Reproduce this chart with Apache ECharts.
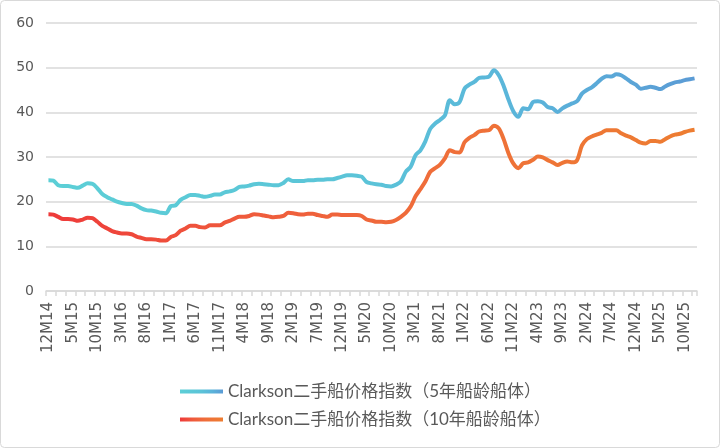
<!DOCTYPE html>
<html>
<head>
<meta charset="utf-8">
<script src="https://cdn.jsdelivr.net/npm/echarts@6/dist/echarts.min.js"></script>
<style>
html,body{margin:0;padding:0;background:#fff;}
#c{width:720px;height:448px;}
</style>
</head>
<body>
<div id="c"></div>
<script>
// Monthly categories 12M14 .. 12M25
const categories = (function(){
  const out = [];
  let m = 12, y = 14;
  for (let i = 0; i < 133; i++) {
    out.push(m + 'M' + (y < 10 ? '0' + y : y));
    m++; if (m > 12) { m = 1; y++; }
  }
  return out;
})();

const seriesNames = ['Clarkson二手船价格指数（5年船龄船体）', 'Clarkson二手船价格指数（10年船龄船体）'];

const index5y = [
  24.8,24.7,23.7,23.5,23.5,23.3,23.1,23.6,24.1,24.0,
  23.0,21.7,21.0,20.5,20.0,19.7,19.5,19.5,19.1,18.5,
  18.1,18.0,17.8,17.5,17.4,19.0,19.2,20.4,21.0,21.5,
  21.5,21.3,21.1,21.3,21.6,21.6,22.1,22.3,22.6,23.3,
  23.4,23.6,23.9,24.0,23.9,23.8,23.7,23.7,24.2,25.0,
  24.6,24.6,24.6,24.8,24.8,24.9,24.9,25.0,25.0,25.3,
  25.6,25.9,25.9,25.8,25.6,24.4,24.1,23.9,23.8,23.5,
  23.4,23.8,24.5,26.7,27.8,30.4,31.5,33.5,36.3,37.5,
  38.3,39.3,42.7,41.8,42.3,45.3,46.2,46.8,47.7,47.8,
  48.0,49.4,48.3,45.9,42.8,40.2,39.0,40.9,40.7,42.3,
  42.5,42.2,41.2,40.9,40.1,40.9,41.5,42.0,42.5,44.2,
  45.0,45.6,46.5,47.5,48.1,48.0,48.5,48.3,47.6,46.8,
  46.2,45.3,45.5,45.7,45.5,45.2,45.8,46.3,46.7,46.9,
  47.2,47.4,47.6
];

const index10y = [
  17.2,17.1,16.6,16.1,16.1,16.0,15.7,16.0,16.4,16.3,
  15.5,14.6,14.0,13.4,13.1,12.9,12.9,12.7,12.2,11.9,
  11.6,11.6,11.5,11.3,11.3,12.1,12.5,13.5,14.0,14.6,
  14.6,14.3,14.2,14.7,14.7,14.7,15.3,15.7,16.2,16.6,
  16.6,16.8,17.2,17.1,16.9,16.7,16.5,16.6,16.8,17.5,
  17.4,17.2,17.1,17.3,17.3,17.0,16.8,16.6,17.1,17.1,
  17.0,17.0,17.0,17.0,16.8,16.0,15.8,15.5,15.5,15.4,
  15.5,15.9,16.6,17.5,18.9,21.2,22.8,24.5,26.7,27.5,
  28.3,29.7,31.5,31.1,31.0,33.3,34.3,34.9,35.7,35.9,
  36.0,37.0,36.4,34.0,30.8,28.5,27.5,28.6,28.8,29.4,
  30.1,29.9,29.3,28.8,28.2,28.7,29.0,28.8,29.3,32.6,
  34.0,34.6,35.0,35.4,36.0,36.0,36.0,35.3,34.8,34.4,
  33.8,33.2,33.0,33.6,33.6,33.4,34.0,34.6,35.0,35.2,
  35.6,35.9,36.1
];

const chart = echarts.init(document.getElementById('c'), null, {renderer: 'canvas'});
const G = echarts.graphic.LinearGradient;
const grad5 = () => new G(0, 0, 1, 0, [
  {offset: 0, color: '#5ccfd6'},
  {offset: 0.5, color: '#5bc3d8'},
  {offset: 0.75, color: '#5ab3da'},
  {offset: 1, color: '#5b9bd5'}
]);
const grad10 = () => new G(0, 0, 1, 0, [
  {offset: 0, color: '#ee3a3a'},
  {offset: 0.3, color: '#ef5a3c'},
  {offset: 0.6, color: '#ef6e3a'},
  {offset: 1, color: '#ed7d31'}
]);
const FONT = "'DejaVu Sans', 'Noto Sans CJK SC', sans-serif";

chart.setOption({
  animation: false,
  backgroundColor: '#fff',
  graphic: [{
    type: 'rect',
    shape: {x: 0.5, y: 0.5, width: 719, height: 447, r: 4},
    style: {fill: 'none', stroke: '#d9d9d9', lineWidth: 1},
    silent: true
  }],
  grid: {left: 46, right: 23, top: 23, bottom: 157, containLabel: false},
  legend: {
    orient: 'vertical',
    left: 175,
    top: 378,
    icon: 'rect',
    itemWidth: 43,
    itemHeight: 4,
    itemGap: 11,
    textStyle: {color: '#595959', fontSize: 17, fontFamily: "'Lato', 'Noto Sans CJK SC', sans-serif"},
    data: seriesNames
  },
  xAxis: {
    type: 'category',
    data: categories,
    boundaryGap: true,
    axisLine: {lineStyle: {color: '#d9d9d9', width: 1.5}},
    axisTick: {show: true, interval: 1, length: 5, lineStyle: {color: '#d9d9d9', width: 1.5}},
    axisLabel: {interval: 4, rotate: 90, margin: 11, color: '#595959', fontSize: 15, fontFamily: FONT},
    splitLine: {show: false}
  },
  yAxis: {
    type: 'value',
    min: 0, max: 60, interval: 10,
    axisLine: {show: false},
    axisTick: {show: false},
    axisLabel: {color: '#595959', fontSize: 14, margin: 12, fontFamily: FONT},
    splitLine: {lineStyle: {color: '#d9d9d9', width: 1.5}}
  },
  series: [
    {
      name: seriesNames[0],
      type: 'line',
      data: index5y,
      symbol: 'none',
      smooth: 0.3,
      lineStyle: {width: 4, color: grad5()},
      itemStyle: {color: grad5()}
    },
    {
      name: seriesNames[1],
      type: 'line',
      data: index10y,
      symbol: 'none',
      smooth: 0.3,
      lineStyle: {width: 4, color: grad10()},
      itemStyle: {color: grad10()}
    }
  ]
});
</script>
</body>
</html>
